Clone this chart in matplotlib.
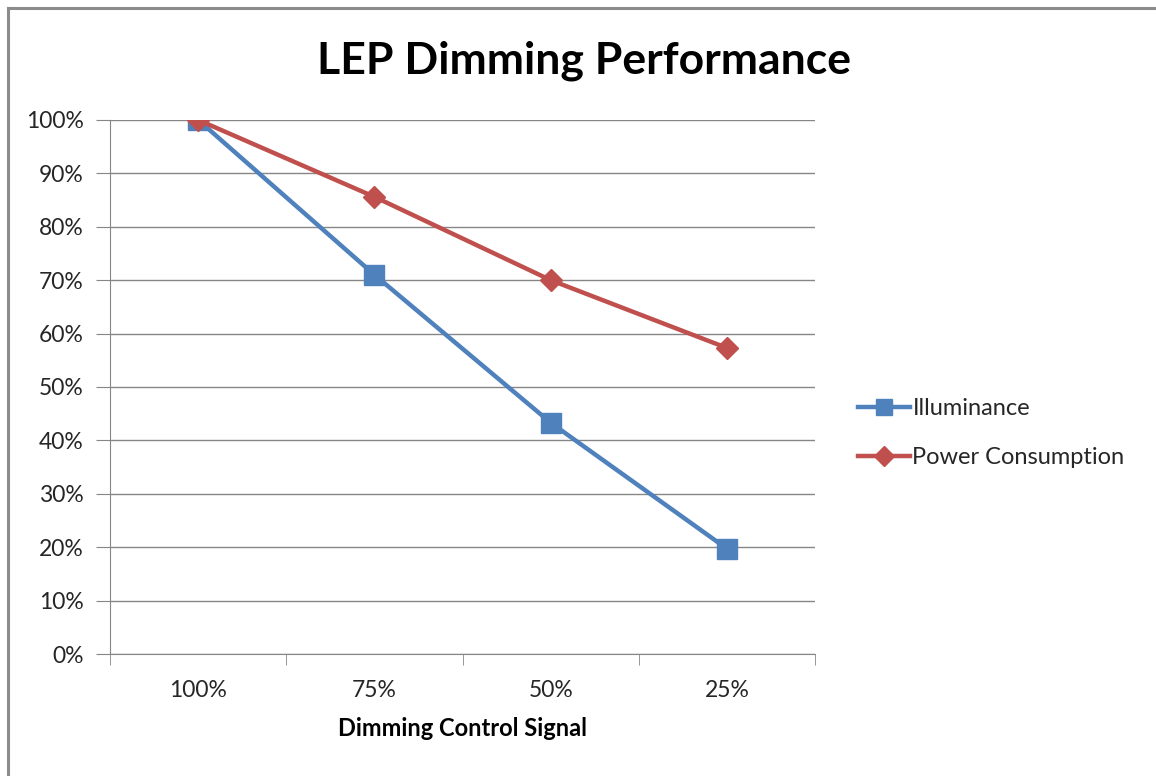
import matplotlib
matplotlib.use('Agg')
import matplotlib.pyplot as plt
from matplotlib.lines import Line2D
from matplotlib.ticker import PercentFormatter, FixedLocator

plt.rcParams['font.family'] = ['Lato', 'DejaVu Sans']

signal = ['100%', '75%', '50%', '25%']
illuminance = [100.0, 71.0, 43.3, 19.7]
power = [100.0, 85.6, 70.0, 57.3]

TXT = '#262626'

fig = plt.figure(figsize=(11.56, 7.76), dpi=100)
ax = fig.add_axes([0.0952, 0.1572, 0.6100, 0.6882])

x = list(range(len(signal)))
ax.plot(x, illuminance, color='#4F81BD', lw=3.2, marker='s', ms=14,
        label='Illuminance', zorder=3)
ax.plot(x, power, color='#C0504D', lw=3.2, marker='D', ms=11,
        label='Power Consumption', zorder=4)

ax.set_xlim(-0.5, len(signal) - 0.5)
ax.set_ylim(0, 100)
ax.set_yticks(range(0, 101, 10))
ax.yaxis.set_major_formatter(PercentFormatter(decimals=0))
ax.set_xticks(x)
ax.set_xticklabels(signal)
ax.xaxis.set_minor_locator(FixedLocator([i - 0.5 for i in range(len(signal) + 1)]))

ax.grid(axis='y', color='#868686', lw=1)
ax.set_axisbelow(True)
for s in ['top', 'right']:
    ax.spines[s].set_visible(False)
for s in ['left', 'bottom']:
    ax.spines[s].set_color('#868686')
ax.tick_params(axis='y', length=10, color='#868686', labelsize=16.5,
               labelcolor=TXT, pad=9)
ax.tick_params(axis='x', which='major', length=0, labelsize=16.5,
               labelcolor=TXT, pad=19)
ax.tick_params(axis='x', which='minor', length=8, color='#868686')

ax.set_xlabel('Dimming Control Signal', fontsize=17, fontweight='bold',
              labelpad=11, color='black')
fig.text(0.505, 0.922, 'LEP Dimming Performance', ha='center', va='center',
         fontsize=32, fontweight='bold')

handles = [
    Line2D([0], [0], color='#4F81BD', lw=3.2, marker='s', ms=12),
    Line2D([0], [0], color='#C0504D', lw=3.2, marker='D', ms=10),
]
fig.legend(handles, ['Illuminance', 'Power Consumption'], loc='center left',
           bbox_to_anchor=(0.724, 0.442), frameon=False, fontsize=17,
           handlelength=2.2, handletextpad=0.1, labelspacing=1.2,
           labelcolor=TXT)

# outer chart border (left and top edges)
fig.add_artist(Line2D([0.007, 0.007], [0, 0.99], color='#8C8C8C', lw=2.2,
                      transform=fig.transFigure))
fig.add_artist(Line2D([0.007, 1.0], [0.99, 0.99], color='#8C8C8C', lw=2.2,
                      transform=fig.transFigure))

fig.savefig('out.png', dpi=100)
